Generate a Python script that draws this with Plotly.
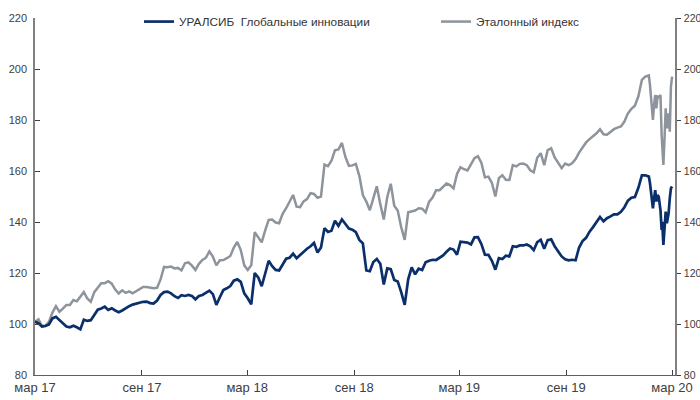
import pandas as pd
import plotly.graph_objects as go

# regular 6-day sampling from 2017-03-01, then a denser tail for Feb 2020
regular_start = "2017-03-01"
regular_step = "6D"

fund_regular = [
    100.9, 100.3, 99.0, 99.2, 99.8, 102.2, 102.8, 101.5, 100.0, 99.0,
    98.7, 99.3, 98.7, 97.9, 101.7, 101.2, 101.5, 103.8, 105.6, 106.1,
    106.8, 105.5, 106.2, 105.3, 104.6, 105.3, 106.3, 107.0, 107.6, 108.0,
    108.5, 108.7, 108.8, 108.2, 108.0, 109.2, 111.4, 112.5, 112.7, 112.0,
    110.9, 110.2, 111.3, 111.0, 111.4, 111.0, 109.7, 111.0, 111.4, 112.2,
    113.1, 111.7, 107.5, 110.5, 113.3, 114.0, 114.9, 117.0, 117.5, 116.5,
    112.0, 110.1, 107.7, 120.0, 118.3, 114.8, 119.3, 124.8, 122.7, 121.2,
    121.0, 123.2, 125.6, 126.0, 127.6, 125.8, 127.1, 128.3, 129.5, 130.5,
    131.8, 128.0, 130.0, 137.6, 136.1, 136.6, 140.5, 138.5, 141.0, 139.2,
    137.4, 137.0, 136.0, 133.0, 131.6, 121.0, 120.7, 124.3, 125.5, 123.6,
    115.5, 121.8, 121.5, 117.3, 116.7, 112.5, 107.5, 117.5, 122.2, 119.5,
    121.7, 121.2, 124.2, 124.8, 125.2, 125.1, 126.0, 126.9, 128.3, 129.6,
    129.2, 127.2, 132.3, 132.2, 131.9, 131.2, 134.0, 134.1, 131.3, 127.2,
    127.1, 124.8, 121.3, 125.8, 125.5, 126.8, 126.5, 130.5, 130.3, 130.8,
    130.8, 131.2, 130.5, 129.0, 132.1, 133.0, 129.5, 132.9, 133.2, 130.5,
    128.6, 126.5, 125.4, 125.0, 125.2, 125.0, 130.0, 132.5, 133.8, 136.2,
    138.0, 140.0, 142.0, 140.3, 141.5, 142.2, 143.0, 143.0, 144.0, 145.8,
    148.4, 149.5, 149.8, 153.4, 158.3, 158.3, 157.8,
]

bench_regular = [
    100.9, 101.8, 99.2, 99.4, 100.8, 104.5, 107.0, 104.8, 106.0, 107.5,
    107.5, 109.4, 108.9, 110.9, 112.5, 110.0, 108.7, 112.5, 114.4, 116.0,
    116.0, 116.8, 115.8, 113.5, 112.0, 113.2, 112.2, 112.8, 112.0, 112.8,
    113.4, 114.5, 114.5, 114.2, 114.0, 114.2, 117.5, 122.4, 122.3, 122.5,
    121.8, 122.0, 121.0, 123.8, 124.2, 122.9, 121.2, 123.6, 125.1, 126.0,
    128.5, 126.4, 123.0, 125.0, 125.1, 125.8, 126.7, 130.0, 132.2, 129.0,
    123.0, 121.2, 123.0, 136.0, 134.0, 132.0, 136.7, 140.8, 141.0, 139.8,
    139.5, 143.2, 145.4, 148.3, 150.6, 146.0, 145.8, 148.1, 149.0, 151.3,
    151.0, 149.5, 150.0, 162.5, 161.9, 164.0, 168.1, 168.5, 171.0, 165.5,
    162.0, 162.2, 162.8, 158.0, 150.6, 148.0, 144.6, 149.3, 154.0, 147.0,
    141.0, 149.8, 155.0, 146.4, 144.5, 138.0, 133.0, 143.8, 144.1, 144.5,
    145.4, 145.2, 143.8, 148.0, 149.6, 152.5, 152.5, 154.0, 155.1, 154.5,
    153.2, 158.8, 161.5, 160.7, 160.2, 162.6, 165.0, 165.8, 163.2, 157.5,
    157.8, 155.3, 150.0, 157.2, 158.3, 156.6, 156.5, 162.3, 161.8, 162.8,
    162.9, 162.3, 160.3, 159.5, 165.2, 167.0, 162.3, 168.2, 168.9, 165.3,
    163.2, 161.1, 162.9, 162.3, 163.0, 164.7, 167.2, 169.3, 171.2, 172.5,
    173.5, 174.8, 176.4, 174.4, 174.2, 175.3, 176.4, 177.0, 177.5, 179.4,
    182.6, 184.4, 185.6, 189.3, 195.7, 197.0, 197.5,
]

tail_dates = [
    "2020-01-23", "2020-01-26", "2020-01-28", "2020-01-30", "2020-02-01",
    "2020-02-03", "2020-02-05", "2020-02-07", "2020-02-10", "2020-02-12",
    "2020-02-13", "2020-02-15", "2020-02-17", "2020-02-19", "2020-02-21",
    "2020-02-24", "2020-02-26", "2020-02-28", "2020-03-01",
]
fund_tail = [155.2, 149.3, 145.4, 149.3, 152.5, 148.0, 150.6, 149.9, 144.7, 136.9,
             140.1, 131.0, 140.1, 144.1, 139.5, 143.4, 149.3, 153.2, 153.9]
bench_tail = [193.7, 185.9, 180.0, 185.9, 189.8, 184.6, 189.2, 189.0, 189.8, 174.1,
              170.9, 162.4, 172.8, 184.6, 176.7, 182.6, 175.4, 193.0, 197.0]

series_names = ["УРАЛСИБ  Глобальные инновации", "Эталонный индекс"]
tick_dates = ["2017-03-01", "2017-09-01", "2018-03-01", "2018-09-01",
              "2019-03-01", "2019-09-01", "2020-03-01"]
tick_labels = ["мар 17", "сен 17", "мар 18", "сен 18", "мар 19", "сен 19", "мар 20"]
y_ticks = [80, 100, 120, 140, 160, 180, 200, 220]

regular_dates = [d.strftime("%Y-%m-%d") for d in
                 pd.date_range(regular_start, periods=len(fund_regular), freq=regular_step)]
dates = regular_dates + tail_dates
fund = fund_regular + fund_tail
bench = bench_regular + bench_tail

FONT = "Liberation Sans, Arial, sans-serif"

fig = go.Figure()
fig.add_trace(go.Scatter(x=dates, y=bench, mode="lines", name=series_names[1],
                         line=dict(color="#8d949c", width=2.5)))
fig.add_trace(go.Scatter(x=dates, y=fund, mode="lines", name=series_names[0],
                         line=dict(color="#0b2f6b", width=2.7)))
fig.add_trace(go.Scatter(x=[dates[0]], y=[fund[0]], yaxis="y2", mode="lines",
                         showlegend=False, hoverinfo="skip",
                         line=dict(color="rgba(0,0,0,0)")))

fig.update_layout(
    width=700, height=400,
    margin=dict(l=35, r=25, t=18, b=25, autoexpand=False),
    paper_bgcolor="white", plot_bgcolor="white",
    font=dict(family=FONT, color="#404040"),
    legend=dict(orientation="h", x=0.1625, xanchor="left", y=0.99, yanchor="middle",
                font=dict(size=11.8, color="#333333"), traceorder="reversed",
                bgcolor="rgba(0,0,0,0)", entrywidth=252, entrywidthmode="pixels"),
    xaxis=dict(type="date", range=["2017-03-01", "2020-03-06"],
               tickvals=tick_dates, ticktext=tick_labels,
               ticks="inside", ticklen=5, tickcolor="#404040",
               showline=True, linecolor="#606060", linewidth=1.3,
               showgrid=False, zeroline=False,
               tickfont=dict(size=13, color="#404040")),
    yaxis=dict(range=[80, 220], tickvals=y_ticks,
               ticks="inside", ticklen=5, tickcolor="#404040",
               showline=True, linecolor="#808080", linewidth=1.5,
               showgrid=False, zeroline=False, ticklabelstandoff=4,
               tickfont=dict(size=11, color="#404040")),
    yaxis2=dict(range=[80, 220], tickvals=y_ticks, overlaying="y", side="right",
                ticks="outside", ticklen=4, tickcolor="#404040",
                showline=True, linecolor="#808080", linewidth=1.5,
                showgrid=False, zeroline=False, ticklabelstandoff=1,
                tickfont=dict(size=10.5, color="#404040")),
)

fig.write_html(
    "out.html",
    config={"displayModeBar": False},
    post_script="document.body.style.margin='0';document.body.style.overflow='hidden';",
)
